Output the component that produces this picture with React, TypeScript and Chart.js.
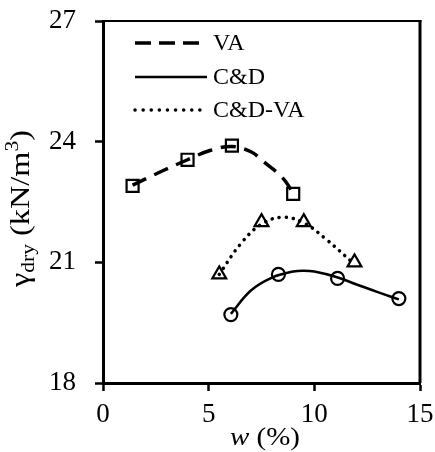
import React, { useEffect, useRef } from "react";
import { Chart, registerables } from "chart.js";

Chart.register(...registerables);

// Measured points
const vaW = [1.4, 4.0, 6.1, 9.0];
const vaGamma = [22.9, 23.55, 23.9, 22.7];
const cdW = [6.05, 8.3, 11.1, 14.0];
const cdGamma = [19.7, 20.7, 20.6, 20.1];
const cdvaW = [5.5, 7.5, 9.5, 11.9];
const cdvaGamma = [20.7, 22.0, 22.0, 21.0];

// Trend curves
const vaFitW = [1.4, 2.8, 4.0, 5.06, 6.1, 7.0, 7.6, 8.5, 9.0];
const vaFitGamma = [22.92, 23.27, 23.55, 23.78, 23.88, 23.75, 23.5, 23.1, 22.72];
const cdFitW = [6.05, 7.0, 8.0, 9.0, 9.5, 10.0, 11.0, 12.0, 13.0, 14.0];
const cdFitGamma = [19.72, 20.3, 20.62, 20.77, 20.79, 20.77, 20.64, 20.45, 20.26, 20.08];
const cdvaFitW = [5.5, 6.5, 7.5, 8.5, 9.5, 10.5, 11.9];
const cdvaFitGamma = [20.7, 21.45, 21.95, 22.12, 21.98, 21.6, 20.95];

const legendLabels = ["VA", "C&D", "C&D-VA"];
const xTicks = [0, 5, 10, 15];
const yTicks = [18, 21, 24, 27];

const FONT = "'Liberation Serif', 'Times New Roman', serif";

const zip = (xs: number[], ys: number[]) => xs.map((x, i) => ({ x, y: ys[i] }));

const decorPlugin = {
  id: "decor",
  afterDraw(chart: any) {
    const { ctx, chartArea } = chart;
    const { left, right, top, bottom } = chartArea;
    ctx.save();
    ctx.strokeStyle = "#000";
    // top frame
    ctx.lineWidth = 2;
    ctx.beginPath();
    ctx.moveTo(left, top);
    ctx.lineTo(right + 1.5, top);
    ctx.stroke();
    // right frame
    ctx.lineWidth = 3;
    ctx.beginPath();
    ctx.moveTo(right, top - 1);
    ctx.lineTo(right, bottom);
    ctx.stroke();

    // legend
    const lx0 = 135;
    const lx1 = 207;
    const ys = [43, 77, 110];
    const dashes = [[16, 8], [], [0.1, 8]];
    const caps = ["butt", "butt", "round"];
    const widths = [3.5, 2.5, 3.5];
    ys.forEach((y, i) => {
      ctx.beginPath();
      ctx.setLineDash(dashes[i]);
      ctx.lineCap = caps[i];
      ctx.lineWidth = widths[i];
      ctx.moveTo(lx0, y);
      ctx.lineTo(lx1, y);
      ctx.stroke();
    });
    ctx.setLineDash([]);
    ctx.fillStyle = "#000";
    ctx.font = `24px ${FONT}`;
    ctx.textBaseline = "middle";
    ctx.textAlign = "left";
    legendLabels.forEach((t, i) => ctx.fillText(t, 213, ys[i] + 1));

    // x title: w (%)
    ctx.save();
    ctx.textBaseline = "alphabetic";
    ctx.font = `italic 26px ${FONT}`;
    const wW = ctx.measureText("w").width;
    ctx.font = `26px ${FONT}`;
    const pW = ctx.measureText(" (%)").width;
    const xs = 70 / (wW + pW);
    ctx.translate(230, 445);
    ctx.scale(xs, 1);
    ctx.font = `italic 26px ${FONT}`;
    ctx.fillText("w", 0, 0);
    ctx.font = `26px ${FONT}`;
    ctx.fillText(" (%)", wW, 0);
    ctx.restore();

    // y title
    ctx.save();
    ctx.translate(29, 208.5);
    ctx.rotate(-Math.PI / 2);
    const big = `27px ${FONT}`;
    const small = `18px ${FONT}`;
    const parts: [string, string, number][] = [
      ["γ", big, 0],
      ["dry", small, 5],
      [" (kN/m", big, 0],
      ["3", small, -11],
      [")", big, 0],
    ];
    let total = 0;
    parts.forEach(([t, f]) => {
      ctx.font = f;
      total += ctx.measureText(t).width;
    });
    ctx.scale(157 / total, 1);
    let cx = -total / 2;
    ctx.textBaseline = "alphabetic";
    parts.forEach(([t, f, dy]) => {
      ctx.font = f;
      ctx.fillText(t, cx, dy);
      cx += ctx.measureText(t).width;
    });
    ctx.restore();
    ctx.restore();
  },
};

export default function App() {
  const ref = useRef<HTMLCanvasElement | null>(null);
  useEffect(() => {
    document.body.style.margin = "0";
    const canvas = ref.current!;
    const lineDs = (data: any, dash: number[], width: number, cap: string) => ({
      type: "line",
      data,
      borderColor: "#000",
      borderWidth: width,
      borderDash: dash,
      borderCapStyle: cap,
      pointRadius: 0,
      fill: false,
      tension: 0.4,
      showLine: true,
    });
    const ptDs = (data: any, style: string, r: number) => ({
      type: "scatter",
      data,
      borderColor: "#000",
      backgroundColor: "rgba(0,0,0,0)",
      borderWidth: 2.2,
      pointStyle: style,
      pointRadius: r,
      showLine: false,
    });
    const chart = new Chart(canvas, {
      type: "scatter",
      data: {
        datasets: [
          lineDs(zip(vaFitW, vaFitGamma), [15, 9], 3.5, "butt"),
          lineDs(zip(cdFitW, cdFitGamma), [], 2.5, "butt"),
          lineDs(zip(cdvaFitW, cdvaFitGamma), [0.1, 7], 3.5, "round"),
          ptDs(zip(vaW, vaGamma), "rect", 8.5),
          ptDs(zip(cdW, cdGamma), "circle", 6.5),
          ptDs(zip(cdvaW, cdvaGamma), "triangle", 8),
        ] as any,
      },
      options: {
        responsive: false,
        animation: false,
        devicePixelRatio: 1,
        layout: { padding: { left: 0, right: 15, top: 21, bottom: 0 } },
        plugins: { legend: { display: false }, tooltip: { enabled: false } },
        scales: {
          x: {
            type: "linear",
            min: 0,
            max: 15,
            afterBuildTicks: (s: any) => {
              s.ticks = xTicks.map((v) => ({ value: v }));
            },
            afterFit: (s: any) => {
              s.height = 69;
              s.paddingLeft = 0;
              s.paddingRight = 0;
            },
            border: { display: true, color: "#000", width: 3 },
            grid: { drawOnChartArea: false, drawTicks: true, tickLength: 8, tickColor: "#000", tickWidth: 2.5 },
            ticks: { color: "#000", font: { family: FONT, size: 27 }, padding: 8, maxRotation: 0 },
          },
          y: {
            type: "linear",
            min: 18,
            max: 27,
            afterBuildTicks: (s: any) => {
              s.ticks = yTicks.map((v) => ({ value: v }));
            },
            afterFit: (s: any) => {
              s.width = 103;
              s.paddingTop = 0;
              s.paddingBottom = 0;
            },
            border: { display: true, color: "#000", width: 3 },
            grid: { drawOnChartArea: false, drawTicks: true, tickLength: 8, tickColor: "#000", tickWidth: 2.5 },
            ticks: { color: "#000", font: { family: FONT, size: 27 }, padding: 19 },
          },
        },
      } as any,
      plugins: [decorPlugin],
    });
    return () => chart.destroy();
  }, []);
  return (
    <div style={{ width: 435, height: 452 }}>
      <canvas ref={ref} width={435} height={452} style={{ width: 435, height: 452, display: "block" }} />
    </div>
  );
}
